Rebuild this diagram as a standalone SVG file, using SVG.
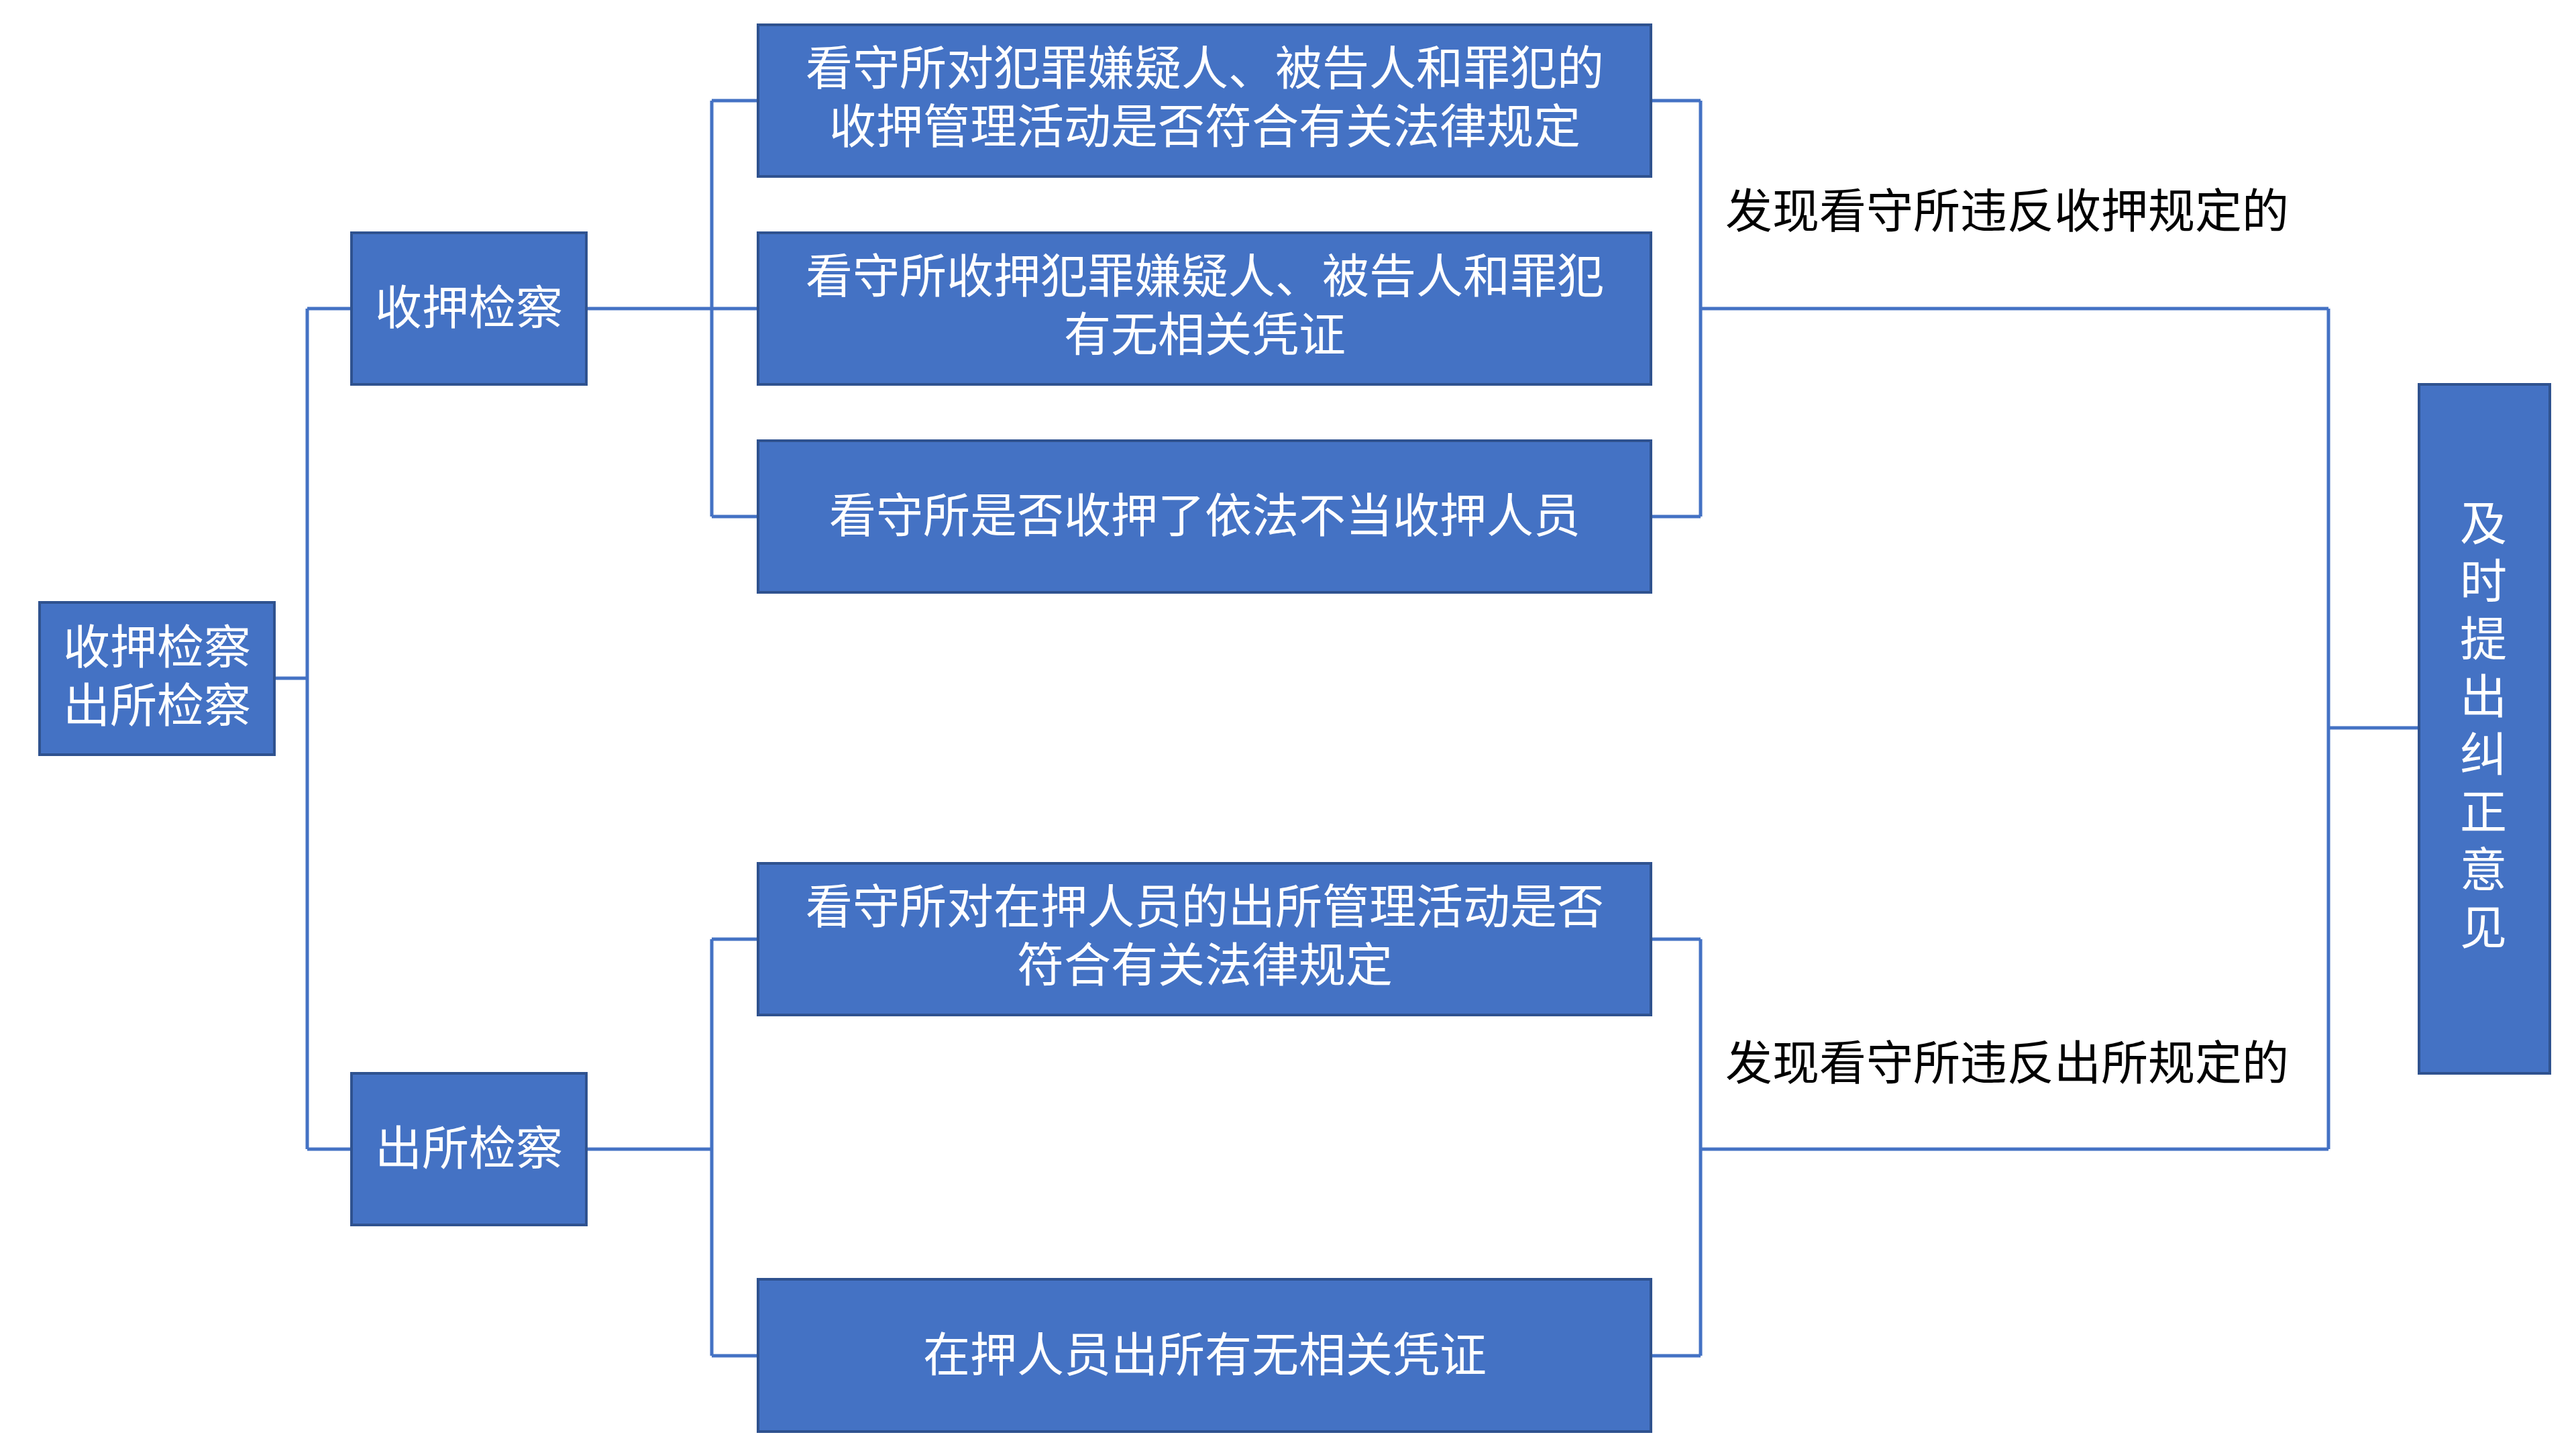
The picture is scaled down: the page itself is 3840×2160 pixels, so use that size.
<svg xmlns="http://www.w3.org/2000/svg" width="3840" height="2160" viewBox="0 0 3840 2160">
<style>
.b{fill:#4472C4;stroke:#2F528F;stroke-width:4}
.t{fill:#fff;font-family:"Liberation Serif","Noto Sans CJK SC",serif;font-size:70px;text-anchor:middle}
.l{fill:#000;font-family:"Liberation Serif","Noto Sans CJK SC",serif;font-size:70px}
.c{fill:none;stroke:#4472C4;stroke-width:5}
</style>
<rect width="3840" height="2160" fill="#fff"/>
<g id="connectors">
<path class="c" d="M409 1011H458M458 460V1713M458 460H524M458 1713H524"/>
<path class="c" d="M874 460H1061M1061 150V770M1061 150H1130M1061 460H1130M1061 770H1130"/>
<path class="c" d="M874 1713H1061M1061 1400V2021M1061 1400H1130M1061 2021H1130"/>
<path class="c" d="M2461 150H2535M2461 770H2535M2535 150V770M2535 460H3471M3471 460V1713M3471 1085H3606"/>
<path class="c" d="M2461 1400H2535M2461 2021H2535M2535 1400V2021M2535 1713H3471"/>
</g>
<g id="root"><rect class="b" x="59" y="898" width="350" height="227"/>
<text class="t" x="234" y="990">收押检察</text><text class="t" x="234" y="1077">出所检察</text></g>
<g id="n1"><rect class="b" x="524" y="347" width="350" height="226"/><text class="t" x="699" y="484">收押检察</text></g>
<g id="n2"><rect class="b" x="524" y="1600" width="350" height="226"/><text class="t" x="699" y="1737">出所检察</text></g>
<g id="b1"><rect class="b" x="1130" y="37" width="1331" height="226"/>
<text class="t" x="1796" y="127">看守所对犯罪嫌疑人、被告人和罪犯的</text><text class="t" x="1796" y="214">收押管理活动是否符合有关法律规定</text></g>
<g id="b2"><rect class="b" x="1130" y="347" width="1331" height="226"/>
<text class="t" x="1796" y="437">看守所收押犯罪嫌疑人、被告人和罪犯</text><text class="t" x="1796" y="524">有无相关凭证</text></g>
<g id="b3"><rect class="b" x="1130" y="657" width="1331" height="226"/>
<text class="t" x="1796" y="794">看守所是否收押了依法不当收押人员</text></g>
<g id="b4"><rect class="b" x="1130" y="1287" width="1331" height="226"/>
<text class="t" x="1796" y="1377">看守所对在押人员的出所管理活动是否</text><text class="t" x="1796" y="1464">符合有关法律规定</text></g>
<g id="b5"><rect class="b" x="1130" y="1907" width="1331" height="227"/>
<text class="t" x="1796" y="2045">在押人员出所有无相关凭证</text></g>
<g id="right"><rect class="b" x="3606" y="573" width="195" height="1027"/>
<text class="t" x="3702" y="806">及<tspan x="3702" dy="86">时</tspan><tspan x="3702" dy="86">提</tspan><tspan x="3702" dy="86">出</tspan><tspan x="3702" dy="86">纠</tspan><tspan x="3702" dy="86">正</tspan><tspan x="3702" dy="86">意</tspan><tspan x="3702" dy="86">见</tspan></text></g>
<text class="l" x="2572" y="340">发现看守所违反收押规定的</text>
<text class="l" x="2572" y="1610">发现看守所违反出所规定的</text>
</svg>
